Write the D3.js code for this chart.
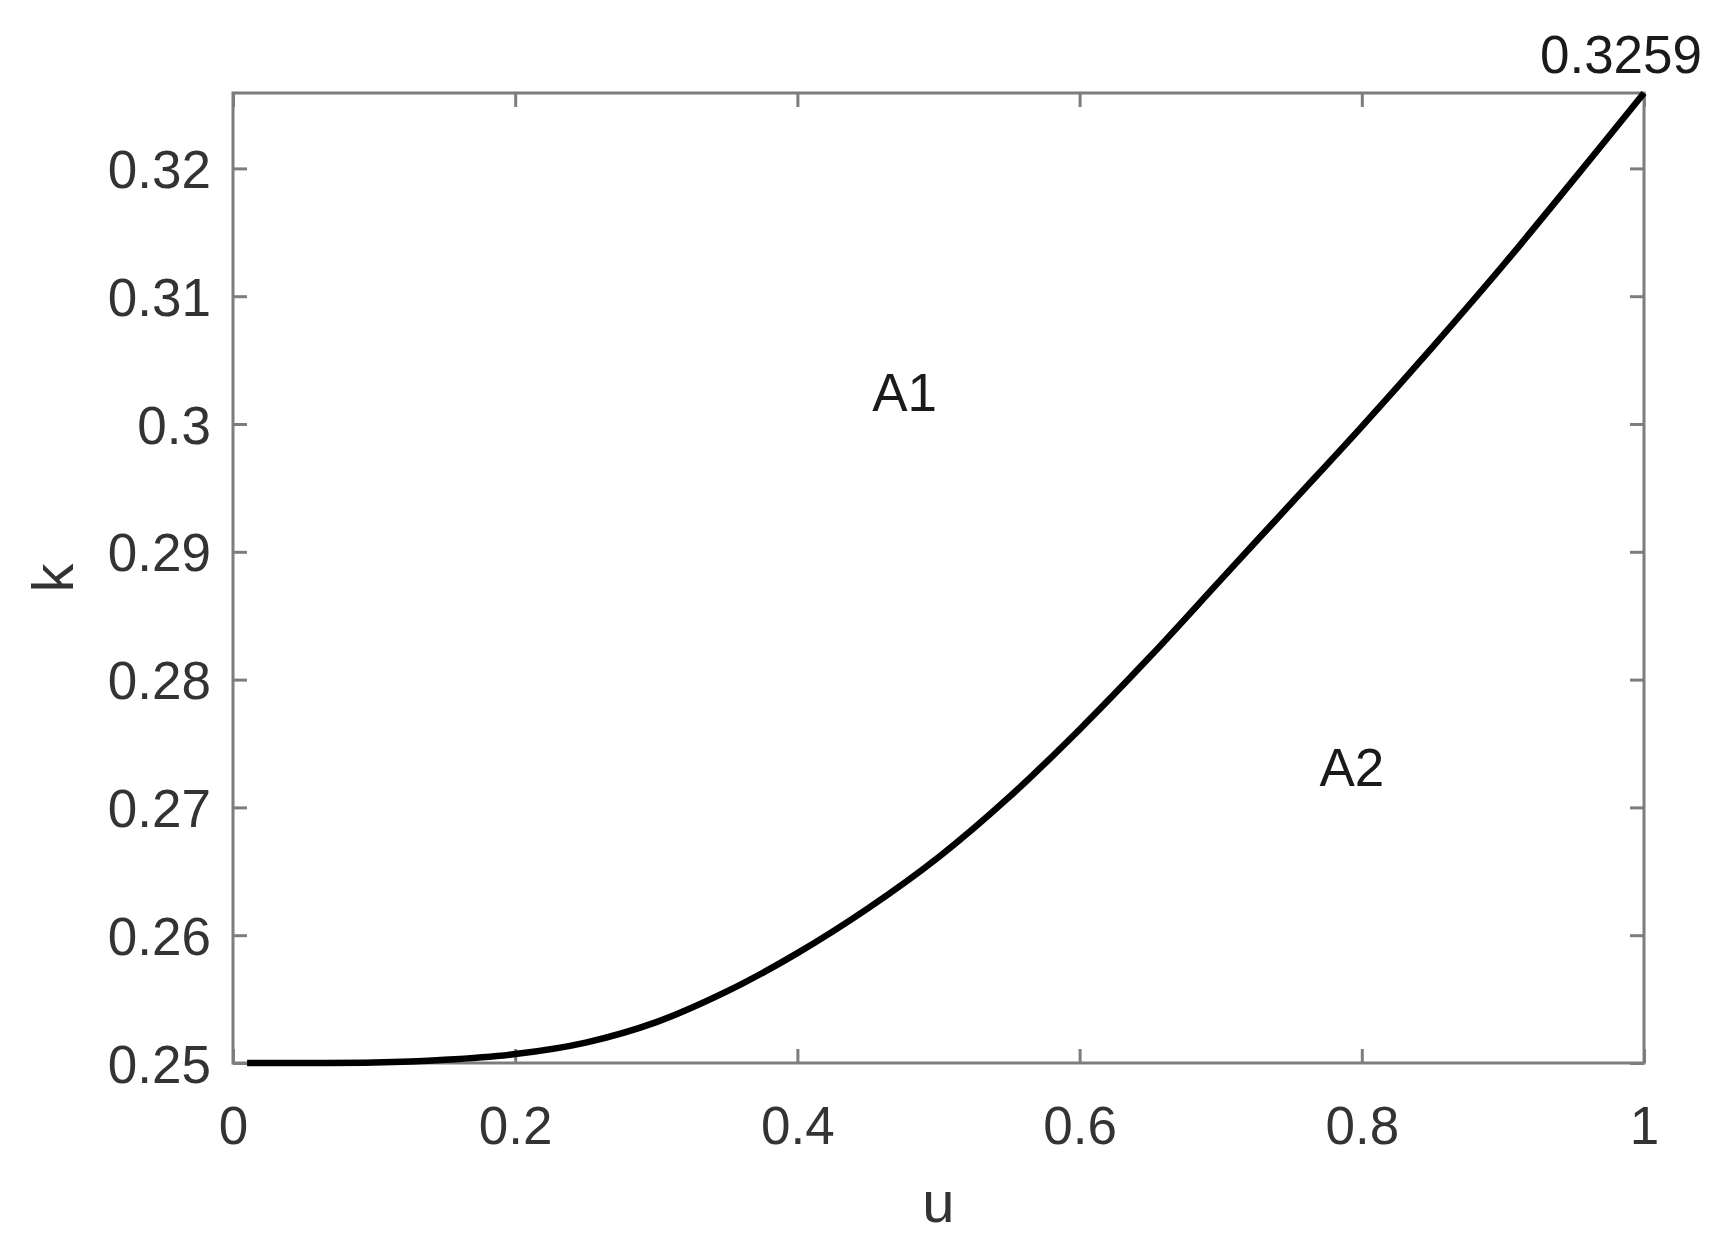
<!DOCTYPE html>
<html>
<head>
<meta charset="utf-8">
<script src="https://cdn.jsdelivr.net/npm/d3@7"></script>
<style>
  html, body { margin: 0; padding: 0; background: #fff; }
  svg { display: block; }
  text { font-family: "Liberation Sans", Arial, sans-serif; }
</style>
</head>
<body>
<svg id="chart" width="1732" height="1254"></svg>
<script>
// ---- data ----
const uValues = [0.01, 0.05, 0.10, 0.15, 0.20, 0.25, 0.30, 0.35, 0.40, 0.45, 0.50,
                 0.55, 0.60, 0.65, 0.70, 0.75, 0.80, 0.85, 0.90, 0.95, 1.00];
const kValues = [0.2500, 0.2500, 0.25003, 0.25025, 0.2507, 0.2516, 0.2532, 0.2556, 0.2586, 0.2621, 0.2661,
                 0.2708, 0.2761, 0.2818, 0.2878, 0.2938, 0.2998, 0.3060, 0.3124, 0.3191, 0.3259];
const xTicks = [0, 0.2, 0.4, 0.6, 0.8, 1];
const xTickLabels = ["0", "0.2", "0.4", "0.6", "0.8", "1"];
const yTicks = [0.25, 0.26, 0.27, 0.28, 0.29, 0.30, 0.31, 0.32];
const yTickLabels = ["0.25", "0.26", "0.27", "0.28", "0.29", "0.3", "0.31", "0.32"];
const xDomain = [0, 1];
const yDomain = [0.25, 0.3259];
const regionLabels = [
  { text: "A1", u: 0.453, k: 0.3025 },
  { text: "A2", u: 0.770, k: 0.2732 }
];
const endLabel = { text: "0.3259", u: 1, k: 0.3259 };
const xLabel = "u";
const yLabel = "k";

(function () {
// ---- layout ----
const pL = 233, pR = 1644, pT = 93, pB = 1063;
const svg = d3.select("#chart");
const x = d3.scaleLinear().domain(xDomain).range([pL, pR]);
const y = d3.scaleLinear().domain(yDomain).range([pB, pT]);

const axisColor = "#7d7d7d";
const textColor = "#333333";
const tickLen = 14;

// box
svg.append("rect")
  .attr("x", pL).attr("y", pT)
  .attr("width", pR - pL).attr("height", pB - pT)
  .attr("fill", "none").attr("stroke", axisColor).attr("stroke-width", 3);

const fontSize = 53;
const gx = svg.append("g").attr("transform", `translate(0,${pB})`)
  .call(d3.axisBottom(x).tickValues(xTicks).tickSizeInner(-tickLen).tickSizeOuter(0)
    .tickPadding(43).tickFormat((d, i) => xTickLabels[i]));
const gy = svg.append("g").attr("transform", `translate(${pL},0)`)
  .call(d3.axisLeft(y).tickValues(yTicks).tickSizeInner(-tickLen).tickSizeOuter(0)
    .tickPadding(22).tickFormat((d, i) => yTickLabels[i]));
const gxt = svg.append("g").attr("transform", `translate(0,${pT})`)
  .call(d3.axisTop(x).tickValues(xTicks).tickSizeInner(-tickLen).tickSizeOuter(0).tickFormat(""));
const gyr = svg.append("g").attr("transform", `translate(${pR},0)`)
  .call(d3.axisRight(y).tickValues(yTicks).tickSizeInner(-tickLen).tickSizeOuter(0).tickFormat(""));

[gx, gy, gxt, gyr].forEach(g => {
  g.select(".domain").remove();
  g.selectAll(".tick line").attr("stroke", axisColor).attr("stroke-width", 3);
  g.selectAll(".tick text")
    .attr("fill", textColor)
    .style("font-size", fontSize + "px")
    .style("font-family", '"Liberation Sans", Arial, sans-serif');
});
gx.selectAll(".tick text").attr("dy", "0.71em");
gy.selectAll(".tick text").attr("dy", "0.36em");

// curve
const line = d3.line()
  .x((d, i) => x(uValues[i]))
  .y((d, i) => y(kValues[i]))
  .curve(d3.curveCatmullRom.alpha(0.5));
svg.append("path")
  .datum(uValues)
  .attr("d", line)
  .attr("fill", "none")
  .attr("stroke", "#000")
  .attr("stroke-width", 6.5)
  .attr("stroke-linejoin", "round");

// region labels
svg.selectAll(".region")
  .data(regionLabels)
  .enter().append("text")
  .attr("class", "region")
  .attr("x", d => x(d.u))
  .attr("y", d => y(d.k))
  .attr("dy", "0.36em")
  .attr("fill", "#1a1a1a")
  .style("font-size", fontSize + "px")
  .text(d => d.text);

// end value label
svg.append("text")
  .attr("x", x(endLabel.u) - 23)
  .attr("y", y(endLabel.k) - 20)
  .attr("text-anchor", "middle")
  .attr("fill", "#1a1a1a")
  .style("font-size", fontSize + "px")
  .text(endLabel.text);

// axis labels
svg.append("text")
  .attr("x", (pL + pR) / 2)
  .attr("y", 1222)
  .attr("text-anchor", "middle")
  .attr("fill", textColor)
  .style("font-size", "58px")
  .text(xLabel);
svg.append("text")
  .attr("transform", `translate(73,${(pT + pB) / 2}) rotate(-90)`)
  .attr("text-anchor", "middle")
  .attr("fill", textColor)
  .style("font-size", "58px")
  .text(yLabel);
})();
</script>
</body>
</html>
